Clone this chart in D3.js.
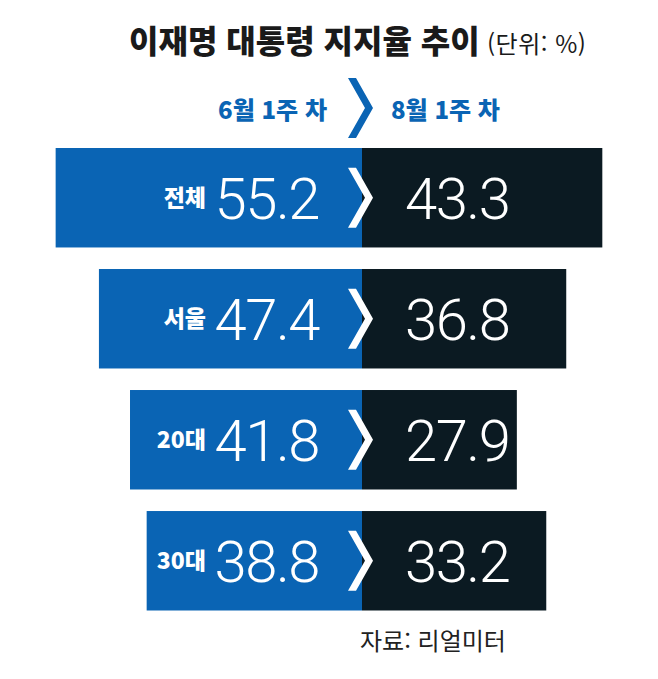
<!DOCTYPE html>
<html lang="ko">
<head>
<meta charset="UTF-8">
<script src="https://d3js.org/d3.v7.min.js"></script>
<title>이재명 대통령 지지율 추이</title>
<style>
    body { margin: 0; background: #fff; }
    svg text { font-family: "Noto Sans CJK KR", "Noto Sans", sans-serif; }
    .num { font-family: Roboto, "Liberation Sans", sans-serif; font-weight: 300; }
</style>
</head>
<body>
<svg id="chart" width="658" height="679"></svg>
<script>
    // data
    const groups = ["전체", "서울", "20대", "30대"];
    const june = [55.2, 47.4, 41.8, 38.8];
    const august = [43.3, 36.8, 27.9, 33.2];
    const periods = ["6월 1주 차", "8월 1주 차"];

    const blue = "#0a64b4";
    const dark = "#0b1a22";
    const cx = 362;

    const svg = d3.select("#chart");

    const x = d3.scaleLinear().domain([0, 60]).range([0, 333]);
    const y = d3.scaleBand().domain(groups).range([148, 610.5]).paddingInner(0.178).paddingOuter(0);

    // chevron shape around (0,0)
    const chev = (w, h) => `M${-14},${-h / 2} L${-6},${-h / 2} L${w - 14},0 L${-6},${h / 2} L${-14},${h / 2} L${w - 22},0 Z`;

    // title
    const title = svg.append("text").attr("x", 129).attr("y", 53)
        .attr("fill", "#1a1a1a");
    title.append("tspan").text("이재명 대통령 지지율 추이")
        .attr("font-size", 32).attr("font-weight", 900);
    title.append("tspan").text(" (단위: %)")
        .attr("font-size", 24).attr("font-weight", 400).attr("letter-spacing", 0.5);

    // period header
    svg.append("text").attr("x", cx - 35).attr("y", 119).attr("text-anchor", "end")
        .attr("fill", blue).attr("font-size", 24).attr("font-weight", 900)
        .text(periods[0]);
    svg.append("text").attr("x", cx + 29).attr("y", 119)
        .attr("fill", blue).attr("font-size", 24).attr("font-weight", 900)
        .text(periods[1]);
    svg.append("path").attr("transform", `translate(${cx},108)`)
        .attr("d", chev(25, 60)).attr("fill", blue);

    const rows = svg.selectAll("g.row").data(groups).join("g")
        .attr("class", "row")
        .attr("transform", d => `translate(0,${y(d)})`);

    const bw = y.bandwidth();

    rows.append("rect")
        .attr("x", (d, i) => cx - x(june[i]))
        .attr("width", (d, i) => x(june[i]))
        .attr("height", bw)
        .attr("fill", blue);

    rows.append("rect")
        .attr("x", cx)
        .attr("width", (d, i) => x(august[i]))
        .attr("height", bw)
        .attr("fill", dark);

    rows.append("text")
        .attr("x", cx - 156).attr("y", bw / 2 + 8)
        .attr("text-anchor", "end")
        .attr("fill", "#fff").attr("font-size", 23).attr("font-weight", 900)
        .text(d => d);

    rows.append("text").attr("class", "num")
        .attr("x", cx - 43).attr("y", bw / 2 + 21)
        .attr("text-anchor", "end")
        .attr("fill", "#fff").attr("font-size", 58).attr("letter-spacing", -1.5)
        .text((d, i) => june[i].toFixed(1));

    rows.append("text").attr("class", "num")
        .attr("x", cx + 43).attr("y", bw / 2 + 21)
        .attr("fill", "#fff").attr("font-size", 58).attr("letter-spacing", -1.5)
        .text((d, i) => august[i].toFixed(1));

    rows.append("path")
        .attr("transform", `translate(${cx},${bw / 2})`)
        .attr("d", chev(25, 60)).attr("fill", "#fff");

    // source
    svg.append("text").attr("x", 360).attr("y", 650)
        .attr("fill", "#222").attr("font-size", 24).attr("font-weight", 400)
        .text("자료: 리얼미터");
</script>
</body>
</html>
